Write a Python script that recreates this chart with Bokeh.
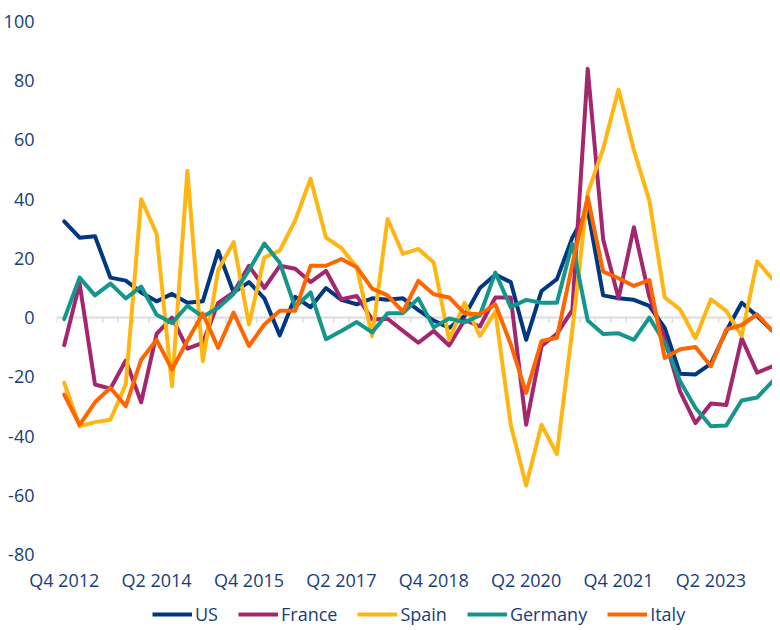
import numpy as np
from bokeh.plotting import figure
from bokeh.layouts import column
from bokeh.models import Range1d, FixedTicker, Span, Legend, LegendItem
from bokeh.embed import file_html
from bokeh.resources import INLINE

# Quarterly categories, Q4 2012 .. Q2 2024
quarters = (["Q4 2012"] +
            [f"Q{q} {y}" for y in range(2013, 2024) for q in (1, 2, 3, 4)] +
            ["Q1 2024", "Q2 2024"])

tick_labels = ["Q4 2012", "Q2 2014", "Q4 2015", "Q2 2017",
               "Q4 2018", "Q2 2020", "Q4 2021", "Q2 2023"]
y_ticks = [-80, -60, -40, -20, 0, 20, 40, 60, 80, 100]

us = [32.5, 27, 27.5, 13.5, 12.5, 8.5, 5.5, 8, 5, 5.5,
      22.5, 8.5, 12, 6.5, -6, 7, 3.5, 10, 6, 4.5,
      6.5, 6, 6.5, 2.5, -1, -3.5, 0.5, 10, 14.5, 12,
      -7.5, 9, 13, 27, 36.5, 7.5, 6.5, 6, 4, -3.5,
      -19, -19.2, -15.5, -4.5, 5, 0.5, -4.5]
france = [-9.3, 11.5, -22.6, -24, -14.5, -28.6, -5.5, 0, -10.5, -8.5,
          5, 8.5, 17.5, 10, 17.5, 16.5, 12, 15.8, 6.2, 7.3,
          -0.6, -0.4, -4.5, -8.5, -4.5, -9.4, -0.8, -3, 6.8, 6.8,
          -36.2, -9.6, -5.5, 2.5, 84, 26.5, 6.5, 30.5, 7, -7,
          -25, -35.6, -29, -29.5, -7, -18.6, -16.5]
spain = [-22, -36.7, -35.3, -34.5, -22.5, 40, 28.3, -23.2, 49.6, -14.7,
         16, 25.5, -2.3, 20.3, 22.6, 32.8, 46.9, 27, 23.5, 17,
         -6.3, 33.3, 21.5, 23.2, 18.6, -7.5, 5, -6.2, 2, -36.2,
         -56.7, -36.2, -46.1, -4, 42, 57, 77, 56.5, 39.6, 6.8,
         2.8, -7, 6.2, 2.3, -6.2, 19, 13]
germany = [-0.5, 13.5, 7.5, 11.5, 6.5, 10.5, 1, -1.8, 4, 0.3,
           3.3, 8, 16, 25, 18.5, 3.5, 8.5, -7.3, -4.5, -1.5,
           -5, 1.5, 1.5, 6.5, -3.3, -0.3, -1.6, 0.8, 15.2, 3.5,
           6, 5, 5, 25, -1, -5.5, -5.3, -7.5, 0, -8.5,
           -21.5, -30.5, -36.7, -36.4, -28, -27, -21.5]
italy = [-26, -36.2, -28.6, -23.7, -29.9, -14.2, -7.5, -17.5, -7.8, 1.4,
         -10.2, 1.7, -9.6, -2.3, 2.3, 2.3, 17.5, 17.5, 19.8, 17,
         9.8, 7.5, 2, 12.4, 7.9, 6.8, 1.4, 1.1, 4.5, -9,
         -25.4, -7.9, -6.8, 18, 40.7, 15.5, 13.3, 10.7, 12.7, -13.6,
         -10.7, -9.9, -16.4, -4, -2.5, 1.1, -4.5]

series_names = ["US", "France", "Spain", "Germany", "Italy"]
series_values = [us, france, spain, germany, italy]
series_colors = ["#003781", "#a3266f", "#ffb612", "#13968d", "#ff6600"]

FONT = "Open Sans"
TEXT_COLOR = "#173d7a"

n = len(quarters)
x = np.arange(n)

p = figure(width=772, height=600, output_backend="svg", toolbar_location=None,
           x_range=Range1d(-0.5, n - 1), y_range=Range1d(-80, 100),
           min_border_left=48, min_border_right=0, min_border_top=21,
           min_border_bottom=46)
p.outline_line_color = None
p.grid.visible = False

# y axis
p.yaxis.ticker = FixedTicker(ticks=y_ticks)
p.yaxis.major_label_overrides = {v: str(v) for v in y_ticks}
p.yaxis.axis_line_color = None
p.yaxis.major_tick_line_color = None
p.yaxis.minor_tick_line_color = None
p.yaxis.major_label_standoff = 16
p.yaxis.major_label_text_font = FONT
p.yaxis.major_label_text_font_size = "18px"
p.yaxis.major_label_text_color = TEXT_COLOR

# x axis (labels at the bottom)
tick_pos = [quarters.index(t) for t in tick_labels]
p.xaxis.ticker = FixedTicker(ticks=tick_pos)
p.xaxis.major_label_overrides = {pos: lab for pos, lab in zip(tick_pos, tick_labels)}
p.xaxis.axis_line_color = None
p.xaxis.major_tick_line_color = None
p.xaxis.minor_tick_line_color = None
p.xaxis.major_label_standoff = 7
p.xaxis.major_label_text_font = FONT
p.xaxis.major_label_text_font_size = "18px"
p.xaxis.major_label_text_color = TEXT_COLOR

# zero line with category tick marks
p.add_layout(Span(location=0, dimension="width", line_color="#dcdcdc",
                  line_width=2, level="underlay"))
bounds = np.arange(n + 1) - 0.5
p.segment(x0=bounds, y0=np.zeros(n + 1), x1=bounds, y1=np.full(n + 1, -1.8),
          line_color="#dcdcdc", line_width=1.5, level="underlay")

for name, vals, col in zip(series_names, series_values, series_colors):
    p.line(x, vals, line_color=col, line_width=4, line_join="round",
           line_cap="round")

# legend strip underneath the chart (legend-only renderers carry no data)
p_leg = figure(width=772, height=29, output_backend="svg", toolbar_location=None,
               x_range=Range1d(0, 1), y_range=Range1d(0, 1),
               min_border_left=0, min_border_right=0, min_border_top=0,
               min_border_bottom=0)
p_leg.axis.visible = False
p_leg.grid.visible = False
p_leg.outline_line_color = None

items = []
for name, col in zip(series_names, series_colors):
    r = p_leg.line(x=[np.nan], y=[np.nan], line_color=col, line_width=4)
    items.append(LegendItem(label=name, renderers=[r]))

legend = Legend(items=items, location=(96, 3), orientation="horizontal",
                glyph_width=40, glyph_height=20, label_height=20,
                label_standoff=3, spacing=20, padding=0, margin=0,
                border_line_color=None, background_fill_alpha=0,
                label_text_font=FONT, label_text_font_size="18px",
                label_text_color=TEXT_COLOR)
p_leg.add_layout(legend)

layout = column(p, p_leg, spacing=0)
open("out.html", "w").write(file_html(layout, INLINE))
